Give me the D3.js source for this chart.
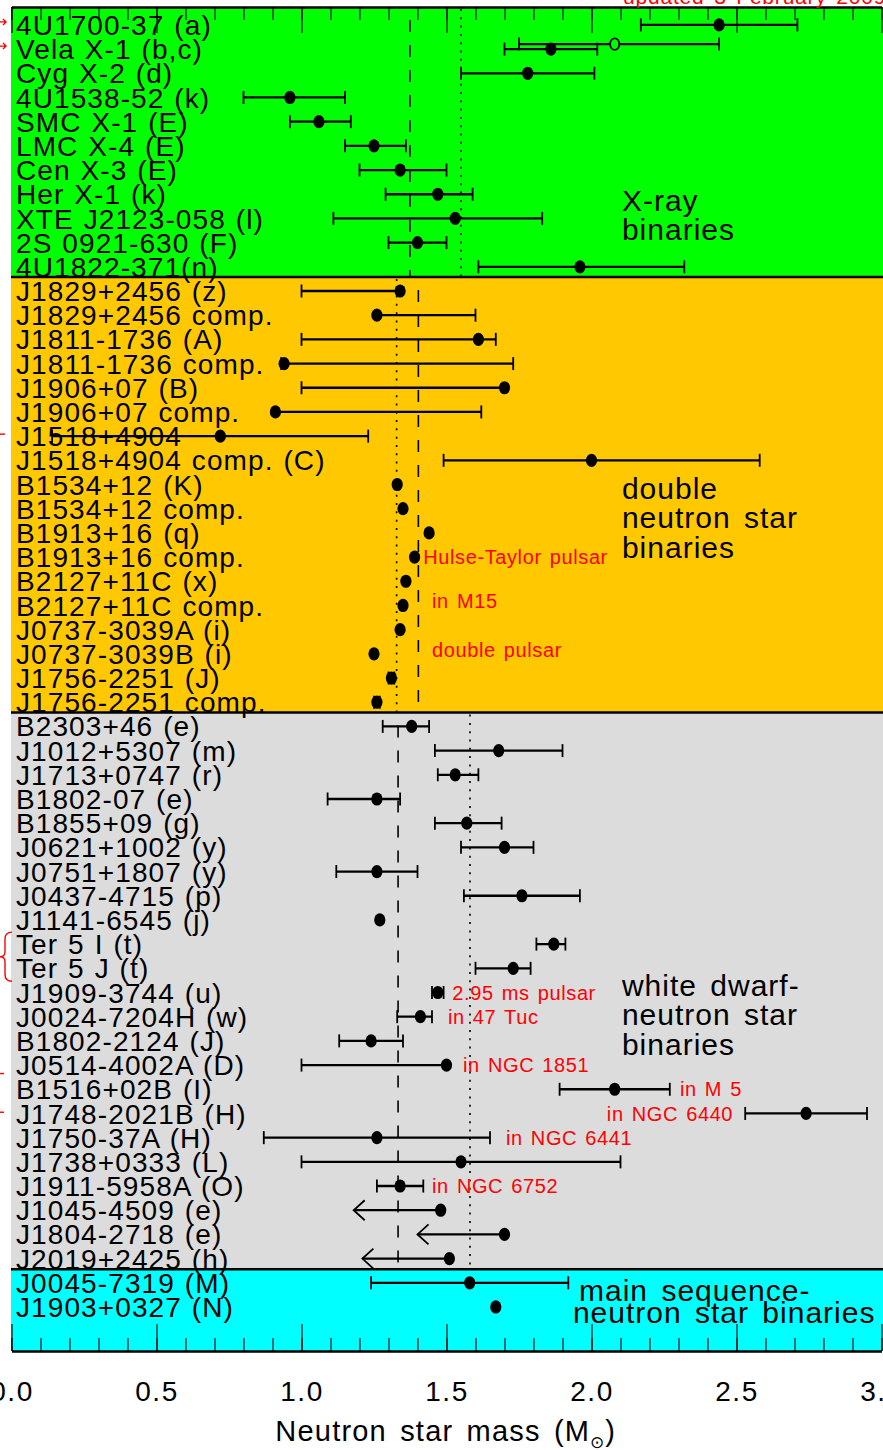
<!DOCTYPE html>
<html>
<head>
<meta charset="utf-8">
<script src="https://cdn.jsdelivr.net/npm/d3@7"></script>
<style>
  body { margin: 0; background: #fff; }
  svg { display: block; }
  text { font-family: "Liberation Sans", Arial, sans-serif; }
</style>
</head>
<body>
<svg id="chart" width="883" height="1450"></svg>
<script>
// ---- Data -------------------------------------------------------------
const labels = [
  "4U1700-37 (a)", "Vela X-1 (b,c)", "Cyg X-2 (d)", "4U1538-52 (k)", "SMC X-1 (E)",
  "LMC X-4 (E)", "Cen X-3 (E)", "Her X-1 (k)", "XTE J2123-058 (l)", "2S 0921-630 (F)",
  "4U1822-371(n)",
  "J1829+2456 (z)", "J1829+2456 comp.", "J1811-1736 (A)", "J1811-1736 comp.",
  "J1906+07 (B)", "J1906+07 comp.", "J1518+4904", "J1518+4904 comp. (C)",
  "B1534+12 (K)", "B1534+12 comp.", "B1913+16 (q)", "B1913+16 comp.",
  "B2127+11C (x)", "B2127+11C comp.", "J0737-3039A (i)", "J0737-3039B (i)",
  "J1756-2251 (J)", "J1756-2251 comp.",
  "B2303+46 (e)", "J1012+5307 (m)", "J1713+0747 (r)", "B1802-07 (e)", "B1855+09 (g)",
  "J0621+1002 (y)", "J0751+1807 (y)", "J0437-4715 (p)", "J1141-6545 (j)",
  "Ter 5 I (t)", "Ter 5 J (t)", "J1909-3744 (u)", "J0024-7204H (w)", "B1802-2124 (J)",
  "J0514-4002A (D)", "B1516+02B (I)", "J1748-2021B (H)", "J1750-37A (H)",
  "J1738+0333 (L)", "J1911-5958A (O)", "J1045-4509 (e)", "J1804-2718 (e)", "J2019+2425 (h)",
  "J0045-7319 (M)", "J1903+0327 (N)"
];

// Best-estimate masses (solar masses)
const masses = [
  2.44, 1.86, 1.78, 0.96, 1.06, 1.25, 1.34, 1.47, 1.53, 1.40, 1.96,
  1.34, 1.26, 1.61, 0.94, 1.70, 0.91, 0.72, 2.00,
  1.33, 1.35, 1.44, 1.39, 1.36, 1.35, 1.34, 1.25, 1.31, 1.26,
  1.38, 1.68, 1.53, 1.26, 1.57, 1.70, 1.26, 1.76, 1.27,
  1.87, 1.73, 1.47, 1.41, 1.24, 1.50, 2.08, 2.74, 1.26, 1.55, 1.34,
  1.48, 1.70, 1.51,
  1.58, 1.67
];

// Lower / upper ends of the error bars (null = no bar on that side)
const lowBounds = [
  2.17, 1.70, 1.55, 0.80, 0.96, 1.15, 1.20, 1.29, 1.11, 1.30, 1.61,
  1.00, null, 1.00, 0.93, 1.00, null, 0.14, 1.49,
  null, null, null, null, null, null, null, null, 1.30, 1.25,
  1.28, 1.46, 1.47, 1.09, 1.46, 1.55, 1.12, 1.56, null,
  1.81, 1.60, 1.45, 1.33, 1.13, 1.00, 1.89, 2.53, 0.87, 1.00, 1.26,
  1.18, 1.40, 1.21,
  1.24, null
];
const highBounds = [
  2.71, 2.02, 2.01, 1.15, 1.17, 1.36, 1.50, 1.59, 1.83, 1.50, 2.32,
  null, 1.60, 1.67, 1.73, null, 1.62, 1.23, 2.58,
  null, null, null, null, null, null, null, null, 1.32, 1.27,
  1.44, 1.90, 1.61, 1.34, 1.69, 1.80, 1.40, 1.96, null,
  1.91, 1.79, 1.49, 1.45, 1.35, null, 2.27, 2.95, 1.65, 2.10, 1.42,
  null, null, null,
  1.92, null
];

// Pulsars with only an upper limit: the lower end is drawn as an arrow
const upperLimitRows = ["J1045-4509 (e)", "J1804-2718 (e)", "J2019+2425 (h)"];

// Second Vela X-1 estimate (open circle)
const velaAltMass = 2.08;
const velaAltRange = [1.75, 2.44];

// Sections: first/last row boundary in row units, fill colour, mean lines
const sectionNames  = ["xray", "dns", "wd", "ms"];
const sectionTop    = [-0.74, 10.42, 28.43, 51.44];
const sectionBottom = [10.42, 28.43, 51.44, 54.82];
const sectionColors = ["#00ff00", "#ffc800", "#dcdcdc", "#00ffff"];
const sectionDashed = [1.374, 1.403, 1.333, null];
const sectionDotted = [1.55, 1.328, 1.581, null];

// Group captions: lines, first-line row position, x position (mass units)
const groupText  = [["X-ray", "binaries"],
                    ["double", "neutron star", "binaries"],
                    ["white dwarf-", "neutron star", "binaries"],
                    ["main sequence-"], ["neutron star binaries"]];
const groupRow   = [7.23, 19.14, 39.69, 52.3, 53.2];
const groupMass  = [2.105, 2.105, 2.105, 1.957, 1.936];

// Red notes next to individual systems
const noteText = ["Hulse-Taylor pulsar", "in M15", "double pulsar", "2.95 ms pulsar",
                  "in 47 Tuc", "in NGC 1851", "in M 5", "in NGC 6440", "in NGC 6441", "in NGC 6752"];
const noteRow  = [22, 23.8, 25.84, 40, 41, 43, 44, 45, 46, 48];
const noteMass = [1.42, 1.45, 1.45, 1.52, 1.505, 1.557, 2.305, 2.053, 1.705, 1.45];

// Axis ticks
const majorTicks = [0.0, 0.5, 1.0, 1.5, 2.0, 2.5, 3.0];
const minorTicks = d3.range(0, 31).map(d => d / 10);

// ---- Scales -----------------------------------------------------------
const svg = d3.select("#chart");
const W = 883;
const x = d3.scaleLinear().domain([0, 3]).range([11.5, 881.5]);
const y = d3.scaleLinear().domain([-0.74, 54.82]).range([7, 1351]);
const plotLeft = x(0) - 0.5, plotRight = W;

// ---- Section backgrounds ---------------------------------------------
const sections = sectionNames.map((n, i) => ({
  name: n, top: sectionTop[i], bottom: sectionBottom[i], color: sectionColors[i],
  dashed: sectionDashed[i], dotted: sectionDotted[i]
}));

svg.append("g").selectAll("rect").data(sections).join("rect")
  .attr("x", plotLeft).attr("width", plotRight - plotLeft)
  .attr("y", d => y(d.top)).attr("height", d => y(d.bottom) - y(d.top))
  .attr("fill", d => d.color);

// mean-mass reference lines per section
const meanLines = svg.append("g");
sections.forEach(s => {
  if (s.dashed != null) {
    meanLines.append("line")
      .attr("x1", x(s.dashed)).attr("x2", x(s.dashed))
      .attr("y1", y(s.top) + 13).attr("y2", y(s.bottom))
      .attr("stroke", "#000").attr("stroke-width", 1.6)
      .attr("stroke-dasharray", "12,13");
  }
  if (s.dotted != null) {
    meanLines.append("line")
      .attr("x1", x(s.dotted)).attr("x2", x(s.dotted))
      .attr("y1", y(s.top) + 2).attr("y2", y(s.bottom))
      .attr("stroke", "#000").attr("stroke-width", 1.6)
      .attr("stroke-dasharray", "2,6.3");
  }
});

// section separators
svg.append("g").selectAll("line").data(sections.slice(1)).join("line")
  .attr("x1", plotLeft).attr("x2", plotRight)
  .attr("y1", d => y(d.top)).attr("y2", d => y(d.top))
  .attr("stroke", "#000").attr("stroke-width", 2.5);

// ---- Axes -------------------------------------------------------------
const axisStyle = g => {
  g.select(".domain").attr("stroke", "#000").attr("stroke-width", 2.2);
  g.selectAll(".tick line").attr("stroke", "#000").attr("stroke-width", 1.1);
};

// bottom minor + major
svg.append("g").attr("transform", `translate(0,${y(54.82)})`)
  .call(d3.axisBottom(x).tickValues(minorTicks).tickSize(-13).tickSizeOuter(0).tickFormat(""))
  .call(axisStyle);
const bottomMajor = svg.append("g").attr("transform", `translate(0,${y(54.82)})`)
  .call(d3.axisBottom(x).tickValues(majorTicks).tickSize(-27).tickSizeOuter(0)
        .tickPadding(30).tickFormat(d3.format(".1f")))
  .call(axisStyle);
bottomMajor.selectAll(".tick text")
  .attr("fill", "#000").style("font-size", "28px").style("letter-spacing", "1.5px")
  .style("font-family", "\"Liberation Sans\", Arial, sans-serif");

// top minor + major
svg.append("g").attr("transform", `translate(0,${y(-0.74)})`)
  .call(d3.axisTop(x).tickValues(minorTicks).tickSize(-13).tickSizeOuter(0).tickFormat(""))
  .call(axisStyle);
svg.append("g").attr("transform", `translate(0,${y(-0.74)})`)
  .call(d3.axisTop(x).tickValues(majorTicks).tickSize(-26).tickSizeOuter(0).tickFormat(""))
  .call(axisStyle);

// axis title
const title = svg.append("text")
  .attr("x", (x(0.895) + x(2.10)) / 2).attr("y", 1441)
  .attr("text-anchor", "middle")
  .style("font-size", "29px").style("letter-spacing", "1.2px").style("word-spacing", "4px");
title.append("tspan").text("Neutron star mass (M");
title.append("tspan").text("\u2299").style("font-size", "17px").attr("dy", 7);
title.append("tspan").text(")").attr("dy", -7);

// ---- Row labels -------------------------------------------------------
svg.append("g").selectAll("text").data(labels).join("text")
  .attr("x", 16).attr("y", (d, i) => y(i)).attr("dy", "0.36em")
  .style("font-size", "28px").style("letter-spacing", "1.1px").style("word-spacing", "1px")
  .attr("fill", "#000")
  .text(d => d);

// ---- Group captions ---------------------------------------------------
groupText.forEach((lines, gi) => {
  const t = svg.append("text")
    .attr("x", x(groupMass[gi])).attr("y", y(groupRow[gi])).attr("dy", "0.36em")
    .style("font-size", "30px").style("letter-spacing", "1px").style("word-spacing", "4px");
  lines.forEach((ln, li) => {
    t.append("tspan").attr("x", x(groupMass[gi])).attr("dy", li === 0 ? "0.36em" : 29.5).text(ln);
  });
});

// ---- Error bars and points -------------------------------------------
const rows = labels.map((name, i) => ({
  name, i, m: masses[i], lo: lowBounds[i], hi: highBounds[i],
  limit: upperLimitRows.includes(name)
}));

const marks = svg.append("g");
const capH = 6.5;

rows.forEach(r => {
  const yc = y(r.i);
  const left = r.lo != null ? r.lo : r.m;
  const right = r.hi != null ? r.hi : r.m;
  if (left !== right) {
    marks.append("line")
      .attr("x1", x(left)).attr("x2", x(right)).attr("y1", yc).attr("y2", yc)
      .attr("stroke", "#000").attr("stroke-width", 2.3);
  }
  if (r.limit) {
    // arrowhead pointing to lower masses
    const tip = x(r.lo);
    marks.append("path")
      .attr("d", `M${tip + 11},${yc - 10} L${tip},${yc} L${tip + 11},${yc + 10}`)
      .attr("fill", "none").attr("stroke", "#000").attr("stroke-width", 1.8);
  } else {
    [r.lo, r.hi].forEach(b => {
      if (b == null) return;
      marks.append("line")
        .attr("x1", x(b)).attr("x2", x(b)).attr("y1", yc - capH).attr("y2", yc + capH)
        .attr("stroke", "#000").attr("stroke-width", 1.8);
    });
  }
  marks.append("ellipse")
    .attr("cx", x(r.m)).attr("cy", yc).attr("rx", 5.6).attr("ry", 6.6)
    .attr("fill", "#000");
});

// Vela X-1 second estimate
{
  const velaRow = labels.indexOf("Vela X-1 (b,c)");
  const yv = y(velaRow) - 5;
  marks.append("line")
    .attr("x1", x(velaAltRange[0])).attr("x2", x(velaAltRange[1]))
    .attr("y1", yv).attr("y2", yv)
    .attr("stroke", "#000").attr("stroke-width", 2.3);
  velaAltRange.forEach(b => {
    marks.append("line")
      .attr("x1", x(b)).attr("x2", x(b)).attr("y1", yv - capH).attr("y2", yv + capH)
      .attr("stroke", "#000").attr("stroke-width", 1.8);
  });
  marks.append("ellipse")
    .attr("cx", x(velaAltMass)).attr("cy", yv).attr("rx", 4.6).attr("ry", 5.8)
    .attr("fill", "#00ff00").attr("stroke", "#000").attr("stroke-width", 1.8);
}

// ---- Red notes --------------------------------------------------------
svg.append("g").selectAll("text").data(noteText).join("text")
  .attr("x", (d, i) => x(noteMass[i])).attr("y", (d, i) => y(noteRow[i])).attr("dy", "0.36em")
  .attr("fill", "#ff0000")
  .style("font-size", "20px").style("letter-spacing", "0.6px").style("word-spacing", "2px")
  .text(d => d);

svg.append("text")
  .attr("x", 623).attr("y", 4)
  .attr("fill", "#ff0000")
  .style("font-size", "21px").style("letter-spacing", "0.8px").style("word-spacing", "3px")
  .text("updated 3 February 2009");

// small red markers in the left margin
const red = svg.append("g").attr("stroke", "#ff0000").attr("fill", "none").attr("stroke-width", 1.4);
[0, 1].forEach(i => {
  const yy = y(i) - 3;
  red.append("path").attr("d", `M0,${yy} L6,${yy} M3,${yy - 3} L6,${yy} L3,${yy + 3}`);
});
red.append("path").attr("d", `M0,${y(17) - 2} L5,${y(17) - 2}`);
{
  const y0 = y(38) - 12, y1 = y(39) + 13, ym = (y0 + y1) / 2;
  red.append("path").attr("d",
    `M12,${y0} Q5,${y0} 5,${y0 + 7} L5,${ym - 5} Q5,${ym} 0,${ym} Q5,${ym} 5,${ym + 5} L5,${y1 - 7} Q5,${y1} 12,${y1}`);
}
red.append("path").attr("d", `M0,${y(43.35)} L4,${y(43.35)}`);
red.append("path").attr("d", `M0,${y(44.95)} L4,${y(44.95)}`);
</script>
</body>
</html>
